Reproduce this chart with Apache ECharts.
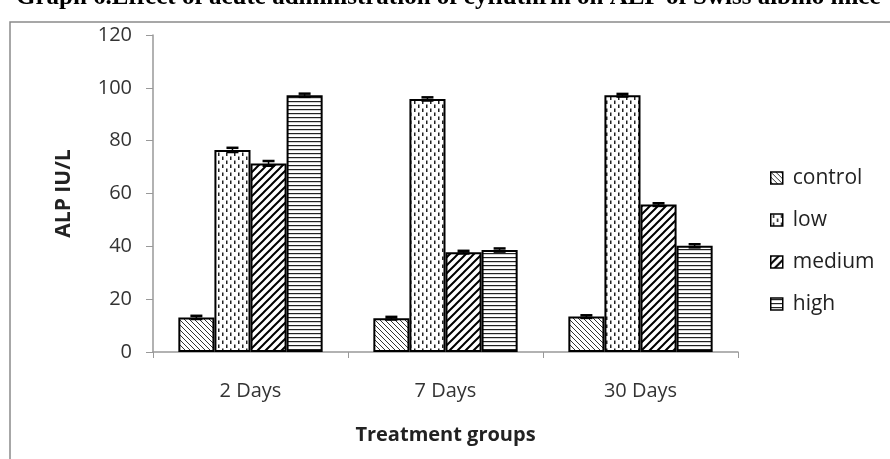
<!DOCTYPE html>
<html>
<head>
<meta charset="utf-8">
<script src="https://cdn.jsdelivr.net/npm/echarts@6/dist/echarts.min.js"></script>
<style>
  html, body { margin: 0; padding: 0; background: #fff; }
  #chart { width: 890px; height: 459px; }
</style>
</head>
<body>
<div id="chart"></div>
<script>
  // data
  const categories = ['2 Days', '7 Days', '30 Days'];
  const seriesNames = ['control', 'low', 'medium', 'high'];
  const controlValues = [13.1, 12.8, 13.4];
  const lowValues = [76.5, 95.8, 97.2];
  const mediumValues = [71.4, 37.8, 55.8];
  const highValues = [97.2, 38.6, 40.2];
  const controlErr = [0.6, 0.5, 0.5];
  const lowErr = [0.8, 0.6, 0.5];
  const mediumErr = [0.9, 0.5, 0.5];
  const highErr = [0.6, 0.6, 0.6];
  const yTicks = [0, 20, 40, 60, 80, 100, 120];

  const allValues = [controlValues, lowValues, mediumValues, highValues];
  const allErr = [controlErr, lowErr, mediumErr, highErr];

  // hatch patterns, drawn on small canvases
  function makePattern(w, h, draw) {
    let c = document.createElement('canvas');
    c.width = w;
    c.height = h;
    let ctx = c.getContext('2d');
    ctx.fillStyle = '#fff';
    ctx.fillRect(0, 0, w, h);
    draw(ctx);
    return {image: c, repeat: 'repeat'};
  }
  const patterns = [
    // control: thin back-slash lines
    makePattern(5, 5, function (ctx) {
      ctx.strokeStyle = '#333';
      ctx.lineWidth = 1;
      ctx.beginPath();
      ctx.moveTo(-1, -1); ctx.lineTo(6, 6);
      ctx.moveTo(-1, 4); ctx.lineTo(1, 6);
      ctx.moveTo(4, -1); ctx.lineTo(6, 1);
      ctx.stroke();
    }),
    // low: small vertical dashes
    makePattern(8, 8, function (ctx) {
      ctx.fillStyle = '#222';
      ctx.fillRect(2, 0.5, 1.5, 3.5);
      ctx.fillRect(6, 4.5, 1.5, 3.5);
    }),
    // medium: heavy forward-slash lines
    makePattern(8, 8, function (ctx) {
      ctx.strokeStyle = '#000';
      ctx.lineWidth = 2;
      ctx.beginPath();
      ctx.moveTo(-1, 9); ctx.lineTo(9, -1);
      ctx.moveTo(-1, 1); ctx.lineTo(1, -1);
      ctx.moveTo(7, 9); ctx.lineTo(9, 7);
      ctx.stroke();
    }),
    // high: horizontal lines
    makePattern(4, 4, function (ctx) {
      ctx.fillStyle = '#222';
      ctx.fillRect(0, 1, 4, 1.2);
    })
  ];

  const chart = echarts.init(document.getElementById('chart'), null, {renderer: 'canvas'});

  const gapPct = 26;
  let series = seriesNames.map(function (name, i) {
    return {
      name: name,
      type: 'bar',
      data: allValues[i],
      barGap: '0%',
      barCategoryGap: gapPct + '%',
      animation: false,
      itemStyle: {
        color: patterns[i],
        borderColor: '#000',
        borderWidth: 2
      },
      emphasis: {disabled: true}
    };
  });

  // error bars on top of each bar
  seriesNames.forEach(function (name, i) {
    series.push({
      type: 'custom',
      animation: false,
      silent: true,
      z: 10,
      data: allValues[i].map(function (v, k) { return [k, v, allErr[i][k]]; }),
      renderItem: function (params, api) {
        let k = api.value(0);
        let v = api.value(1);
        let e = api.value(2);
        let cw = api.size([1, 0])[0];
        let bw = cw * (1 - gapPct / 100) / 4;
        let base = api.coord([k, v]);
        let x = base[0] - 2 * bw + (i + 0.5) * bw;
        let yHi = api.coord([k, v + e])[1];
        let yLo = api.coord([k, v - e])[1];
        let half = 6;
        let st = {stroke: '#000', lineWidth: 2.5};
        return {
          type: 'group',
          children: [
            {type: 'line', shape: {x1: x, y1: yHi, x2: x, y2: yLo}, style: {stroke: '#000', lineWidth: 1.5}},
            {type: 'line', shape: {x1: x - half, y1: yHi, x2: x + half, y2: yHi}, style: st},
            {type: 'line', shape: {x1: x - half, y1: yLo, x2: x + half, y2: yLo}, style: st}
          ]
        };
      }
    });
  });

  chart.setOption({
    backgroundColor: '#fff',
    animation: false,
    textStyle: {fontFamily: 'Open Sans'},
    graphic: [
      {
        type: 'rect',
        shape: {x: 10, y: 22, width: 900, height: 460},
        style: {fill: 'none', stroke: '#8a8a8a', lineWidth: 1.5},
        silent: true
      },
      {
        type: 'text',
        x: 16,
        y: -15,
        style: {
          text: 'Graph 6.Effect of acute administration of cyfluthrin on ALP of Swiss albino mice',
          font: 'bold 25px "Liberation Serif"',
          lineHeight: 25,
          verticalAlign: 'top',
          fill: '#000'
        },
        silent: true
      }
    ],
    legend: {
      orient: 'vertical',
      left: 765,
      top: 162,
      itemWidth: 12,
      itemHeight: 12,
      itemGap: 20,
      icon: 'rect',
      data: seriesNames,
      itemStyle: {borderColor: '#000', borderWidth: 1.5},
      textStyle: {fontSize: 21, lineHeight: 22, color: '#222', fontFamily: 'Open Sans', padding: [0, 0, 0, 5]}
    },
    grid: {
      left: 153,
      right: 152,
      top: 35,
      bottom: 107
    },
    xAxis: {
      type: 'category',
      data: categories,
      name: 'Treatment groups',
      nameLocation: 'middle',
      nameGap: 73,
      nameTextStyle: {fontSize: 20, fontWeight: 'bold', color: '#222', fontFamily: 'Open Sans'},
      axisLine: {lineStyle: {color: '#999', width: 1.5}},
      axisTick: {show: true, length: 6, lineStyle: {color: '#999'}},
      axisLabel: {fontSize: 20, color: '#333', margin: 29, fontFamily: 'Open Sans'},
      splitLine: {show: false}
    },
    yAxis: {
      type: 'value',
      min: 0,
      max: 120,
      interval: 20,
      name: 'ALP IU/L',
      nameLocation: 'middle',
      nameGap: 78,
      nameTextStyle: {fontSize: 21, fontWeight: 'bold', color: '#222', fontFamily: 'Open Sans'},
      axisLine: {show: true, lineStyle: {color: '#999', width: 1.5}},
      axisTick: {show: true, inside: false, length: 7, lineStyle: {color: '#999'}},
      axisLabel: {
        fontSize: 20,
        color: '#333',
        margin: 21,
        fontFamily: 'Open Sans',
        formatter: function (v) { return yTicks.indexOf(v) >= 0 ? String(v) : ''; }
      },
      splitLine: {show: false}
    },
    series: series
  });
</script>
</body>
</html>
